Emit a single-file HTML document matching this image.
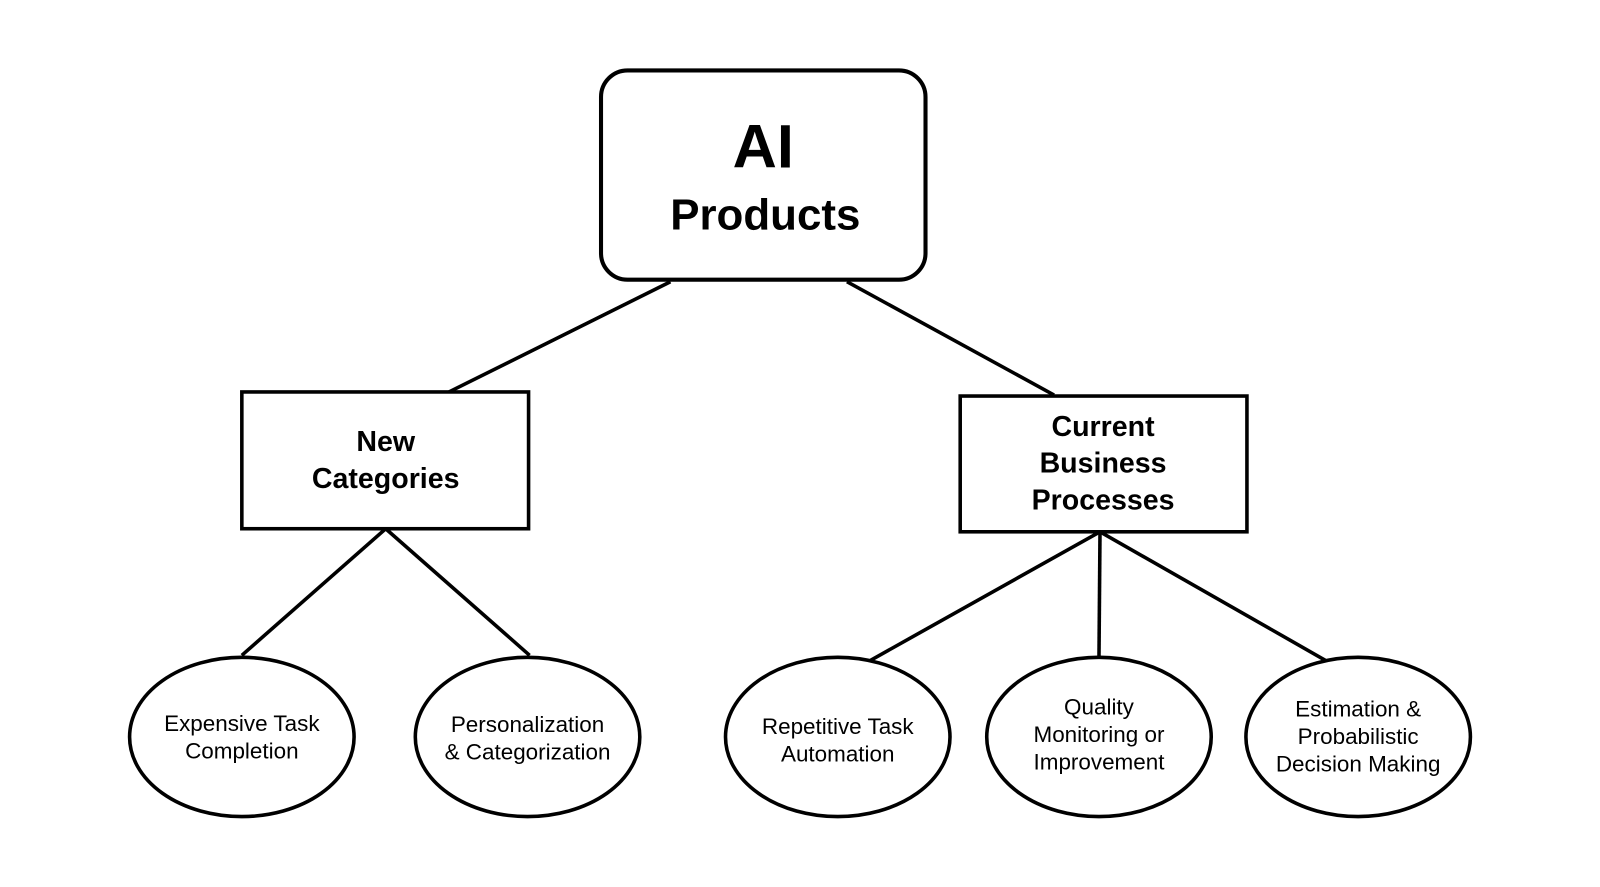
<!DOCTYPE html>
<html><head><meta charset="utf-8"><style>html,body{margin:0;padding:0;background:#fff;}svg{display:block;}</style></head>
<body>
<svg width="1600" height="887" viewBox="0 0 1568 869" preserveAspectRatio="none" xmlns="http://www.w3.org/2000/svg" font-family="Liberation Sans, Arial, sans-serif">
<g stroke="#000" stroke-width="3.5" fill="none">
<line x1="657" y1="276" x2="440" y2="384"/>
<line x1="830" y1="276" x2="1033" y2="387"/>
<line x1="378" y1="518" x2="237" y2="642"/>
<line x1="378" y1="518" x2="519" y2="642"/>
<line x1="1078" y1="521" x2="853" y2="647"/>
<line x1="1078" y1="521" x2="1077" y2="644"/>
<line x1="1078" y1="521" x2="1299" y2="647"/>
<rect x="589" y="69" width="318" height="205" rx="26" fill="#fff" stroke-width="4"/>
<rect x="237" y="384" width="281" height="134" fill="#fff"/>
<rect x="941" y="388" width="281" height="133" fill="#fff"/>
<ellipse cx="237" cy="722" rx="110" ry="78" fill="#fff"/>
<ellipse cx="517" cy="722" rx="110" ry="78" fill="#fff"/>
<ellipse cx="821" cy="722" rx="110" ry="78" fill="#fff"/>
<ellipse cx="1077" cy="722" rx="110" ry="78" fill="#fff"/>
<ellipse cx="1331" cy="722" rx="110" ry="78" fill="#fff"/>
</g>
<g text-anchor="middle" font-weight="bold" fill="#000">
<text x="748" y="164" font-size="60">AI</text>
<text x="750" y="225" font-size="43">Products</text>
<text x="378" y="442" font-size="28">New</text>
<text x="378" y="478" font-size="28">Categories</text>
<text x="1081" y="427" font-size="28">Current</text>
<text x="1081" y="463" font-size="28">Business</text>
<text x="1081" y="499" font-size="28">Processes</text>
</g>
<g text-anchor="middle" font-size="22" fill="#000">
<text x="237" y="716">Expensive Task</text>
<text x="237" y="743">Completion</text>
<text x="517" y="717">Personalization</text>
<text x="517" y="744">&amp; Categorization</text>
<text x="821" y="719">Repetitive Task</text>
<text x="821" y="746">Automation</text>
<text x="1077" y="700">Quality</text>
<text x="1077" y="727">Monitoring or</text>
<text x="1077" y="754">Improvement</text>
<text x="1331" y="702">Estimation &amp;</text>
<text x="1331" y="729">Probabilistic</text>
<text x="1331" y="756">Decision Making</text>
</g>
</svg>
</body></html>
